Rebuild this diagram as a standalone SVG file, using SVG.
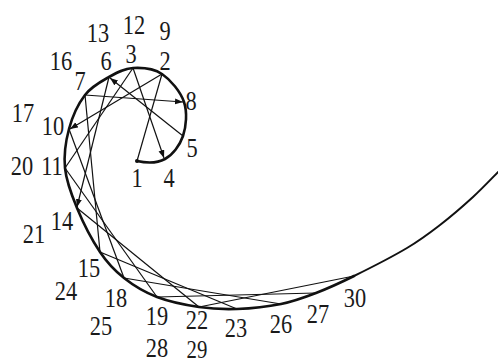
<svg xmlns="http://www.w3.org/2000/svg" width="498" height="364" viewBox="0 0 498 364">
<defs>
<marker id="ah" markerUnits="userSpaceOnUse" markerWidth="9" markerHeight="7" refX="8" refY="3" orient="auto">
<path d="M0,0 L8,3 L0,6 z" fill="#111"/>
</marker>
<style>
.curve{fill:none;stroke:#111;stroke-width:2.6;stroke-linecap:round}
.tail{fill:none;stroke:#111;stroke-width:2}
.ch{stroke:#111;stroke-width:1.2;fill:none}
.ar{marker-end:url(#ah)}
.lb{font-family:"Liberation Serif","Times New Roman",serif;font-size:28px;fill:#1a1a1a;text-anchor:middle}
.sm{font-size:26px}
</style>
</defs>
<rect width="498" height="364" fill="#fff"/>
<g id="spiral">
<path class="curve" d="M137,161 C146,163 157.3,163.2 165,159 C172.7,154.8 179.8,145.5 183,136 C186.2,126.5 187.5,112.3 184,102 C180.5,91.7 170.5,79.7 162,74 C153.5,68.3 141.8,67.5 133,68 C124.2,68.5 117,72.5 109,77 C101,81.5 91.7,86.3 85,95 C78.3,103.7 72.3,116.8 69,129 C65.7,141.2 63.7,154.8 65,168 C66.3,181.2 71.2,194 77,208 C82.8,222 92.2,240.3 100,252 C107.8,263.7 114.5,270.5 124,278 C133.5,285.5 144.5,292.2 157,297 C169.5,301.8 185.7,305 199,307 C212.3,309 223.3,309.5 237,309 C250.7,308.5 267.8,306.7 281,304 C294.2,301.3 303.8,297.7 316,293 C328.2,288.3 338.8,283.5 354,276"/>
<path class="tail" d="M354,276 C369.2,268.5 392.7,256.5 407,248 C421.3,239.5 429,233.5 440,225 C451,216.5 462.3,206.8 473,197 C483.7,187.2 493.7,176.3 504,166"/>
<circle cx="137" cy="161" r="2" fill="#111"/>
</g>
<g id="connectors">
<line class="ch" x1="137" y1="161" x2="162" y2="74"/>
<line class="ch ar" x1="133" y1="68" x2="164" y2="158"/>
<line class="ch ar" x1="183" y1="136" x2="110" y2="78"/>
<line class="ch ar" x1="85" y1="95" x2="183" y2="102"/>
<line class="ch ar" x1="162" y1="74" x2="70" y2="129"/>
<line class="ch" x1="65" y1="168" x2="133" y2="68"/>
<line class="ch ar" x1="109" y1="77" x2="77" y2="207"/>
<line class="ch" x1="100" y1="252" x2="85" y2="95"/>
<line class="ch" x1="69" y1="129" x2="124" y2="278"/>
<line class="ch" x1="157" y1="297" x2="65" y2="168"/>
<line class="ch" x1="77" y1="208" x2="199" y2="307"/>
<line class="ch" x1="237" y1="309" x2="100" y2="252"/>
<line class="ch" x1="124" y1="278" x2="281" y2="304"/>
<line class="ch" x1="316" y1="293" x2="157" y2="297"/>
<line class="ch" x1="199" y1="307" x2="354" y2="276"/>
</g>
<g id="labels" transform="scale(0.8,1)">
<text class="lb" x="122.5" y="42">13</text>
<text class="lb" x="167.5" y="34">12</text>
<text class="lb" x="206.25" y="40">9</text>
<text class="lb" x="76.25" y="70">16</text>
<text class="lb" x="132.5" y="70">6</text>
<text class="lb" x="163.75" y="63">3</text>
<text class="lb" x="206.25" y="70">2</text>
<text class="lb" x="100" y="90">7</text>
<text class="lb" x="238.75" y="110">8</text>
<text class="lb" x="28.75" y="122">17</text>
<text class="lb" x="66.25" y="135">10</text>
<text class="lb" x="240" y="157">5</text>
<text class="lb" x="27.5" y="175">20</text>
<text class="lb" x="65" y="175">11</text>
<text class="lb" x="171.25" y="187">1</text>
<text class="lb" x="211.25" y="187">4</text>
<text class="lb" x="77.5" y="230">14</text>
<text class="lb" x="42.5" y="243">21</text>
<text class="lb" x="111.25" y="277">15</text>
<text class="lb" x="82.5" y="300">24</text>
<text class="lb" x="145" y="307">18</text>
<text class="lb" x="126.25" y="335">25</text>
<text class="lb" x="196.25" y="325">19</text>
<text class="lb" x="246.25" y="329">22</text>
<text class="lb" x="196.25" y="357">28</text>
<text class="lb sm" x="246.25" y="358.5">29</text>
<text class="lb" x="295" y="337">23</text>
<text class="lb" x="351.25" y="333">26</text>
<text class="lb" x="397.5" y="323">27</text>
<text class="lb" x="443.75" y="307">30</text>
</g>
</svg>
